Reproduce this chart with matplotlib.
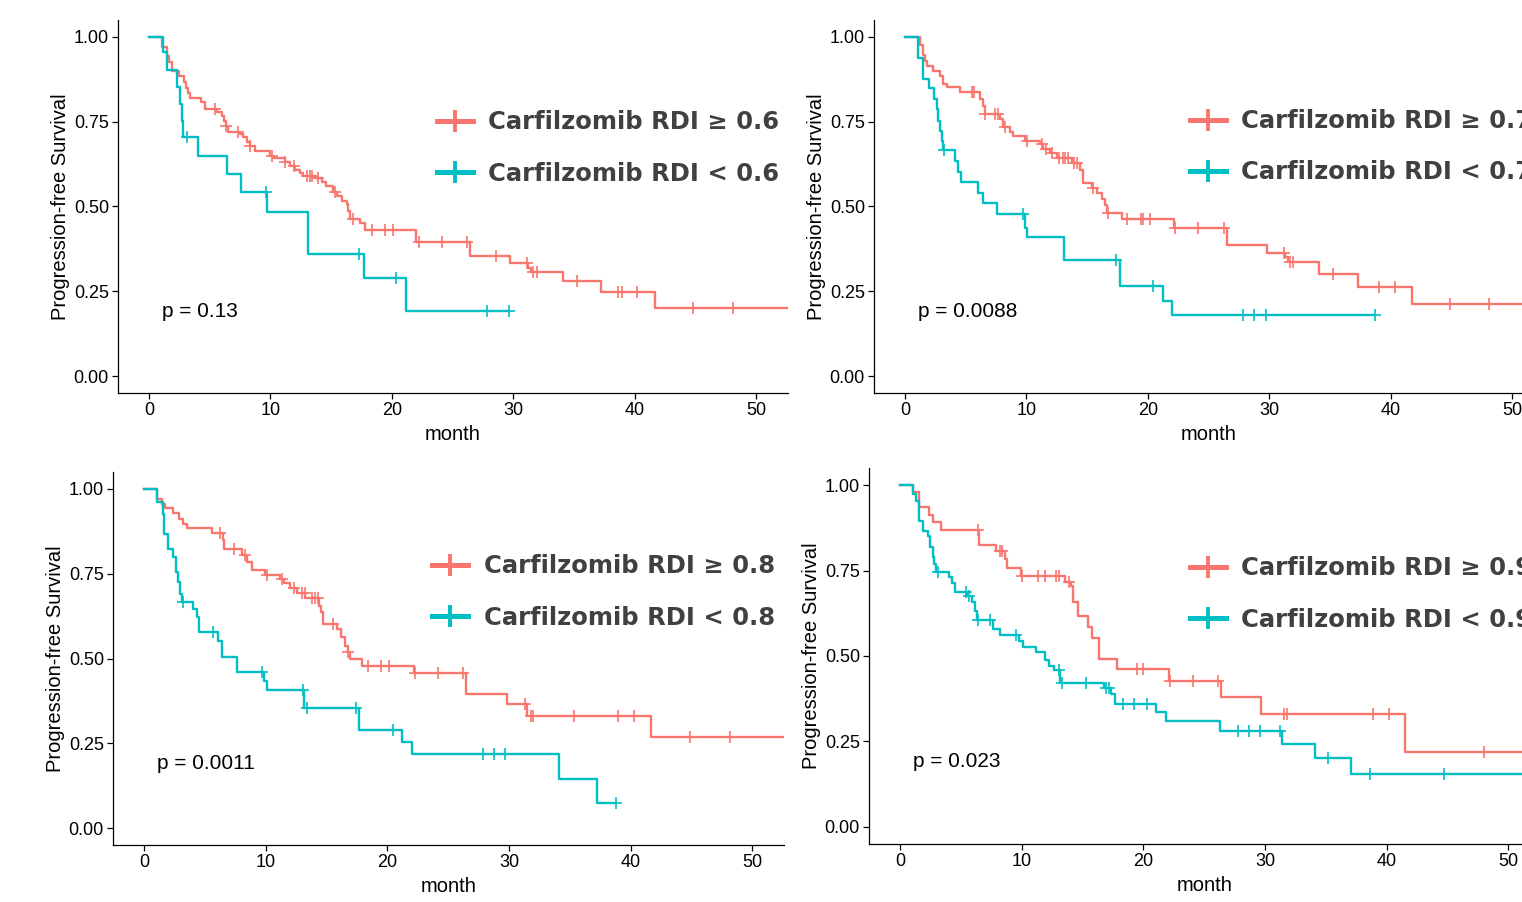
import matplotlib.pyplot as plt
from matplotlib.lines import Line2D
import numpy as np

RED = "#F8766D"
TEAL = "#00BFC4"

cutoffs = ["0.6", "0.7", "0.8", "0.9"]
p_values = ["0.13", "0.0088", "0.0011", "0.023"]

# ---- panel 1: RDI 0.6 ----
p1_hi_t = [0, 1.04, 1.45, 1.67, 1.86, 2.5, 2.88, 3.04, 3.24, 3.37, 4.25, 4.61, 5.62, 5.98, 6.17, 6.34,
           6.53, 7.49, 7.76, 8.04, 8.31, 8.72, 9.96, 10.23, 11.19, 11.60, 12.02, 12.43, 12.70, 13.66,
           14.21, 14.57, 15.17, 15.45, 15.86, 16.27, 16.41, 16.54, 17.37, 17.78, 21.98, 26.42, 29.71,
           31.2, 31.45, 34.1, 37.17, 41.64]
p1_hi_s = [1.0, 0.970, 0.943, 0.925, 0.900, 0.884, 0.867, 0.850, 0.835, 0.819, 0.807, 0.788, 0.778,
           0.768, 0.753, 0.738, 0.721, 0.714, 0.704, 0.689, 0.678, 0.665, 0.650, 0.642, 0.630, 0.620,
           0.609, 0.599, 0.591, 0.583, 0.573, 0.561, 0.542, 0.532, 0.517, 0.507, 0.488, 0.463, 0.451,
           0.432, 0.394, 0.353, 0.332, 0.320, 0.308, 0.280, 0.249, 0.201]
p1_hi_cens = [5.43, 6.34, 7.35, 8.31, 10.1, 11.2, 11.9, 12.98, 13.25, 13.39, 13.94, 15.3, 16.82, 18.33,
              19.42, 20.11, 22.25, 24.1, 26.2, 28.6, 31.08, 31.63, 31.9, 35.2, 38.63, 38.9, 40.19,
              44.75, 48.04]
p1_hi_end = 53
p1_lo_t = [0, 1.12, 1.5, 2.28, 2.55, 2.69, 2.83, 4.03, 6.45, 7.55, 9.74, 13.07, 17.7, 21.15]
p1_lo_s = [1.0, 0.955, 0.903, 0.852, 0.802, 0.753, 0.704, 0.650, 0.596, 0.542, 0.483, 0.360, 0.289, 0.193]
p1_lo_cens = [3.16, 9.63, 17.31, 20.33, 27.79, 29.65]
p1_lo_end = 29.65

# ---- panel 2: RDI 0.7 ----
p2_hi_t = [0, 1.2, 1.45, 1.65, 1.84, 2.33, 2.88, 3.1, 3.43, 4.53, 6.17, 6.39, 6.58, 7.82, 8.04, 8.64,
           8.92, 9.88, 11.11, 11.39, 11.93, 12.48, 13.71, 14.4, 14.62, 15.36, 15.77, 16.19, 16.46,
           16.65, 17.83, 22.14, 26.5, 29.77, 31.3, 31.5, 34.1, 37.3, 41.7]
p2_hi_s = [1.0, 0.975, 0.948, 0.929, 0.915, 0.900, 0.885, 0.862, 0.852, 0.839, 0.818, 0.796, 0.773,
           0.758, 0.733, 0.720, 0.707, 0.694, 0.684, 0.671, 0.659, 0.644, 0.627, 0.609, 0.570, 0.555,
           0.540, 0.521, 0.503, 0.482, 0.462, 0.438, 0.385, 0.364, 0.352, 0.335, 0.300, 0.264, 0.211]
p2_hi_cens = [5.49, 5.68, 6.58, 7.41, 7.68, 8.23, 10.07, 11.25, 11.6, 12.1, 12.7, 12.97, 13.17, 13.44,
              13.9, 14.2, 15.45, 16.74, 18.3, 19.4, 19.6, 20.2, 22.2, 24.14, 26.3, 31.2, 31.7, 31.97,
              35.2, 39.0, 40.3, 44.85, 48.1]
p2_hi_end = 53
p2_lo_t = [0, 1.1, 1.51, 2.0, 2.39, 2.6, 2.74, 2.88, 3.02, 3.1, 4.1, 4.39, 4.58, 6.04, 6.45, 7.54,
           9.88, 10.07, 13.08, 17.7, 21.2, 22.0]
p2_lo_s = [1.0, 0.939, 0.877, 0.848, 0.818, 0.787, 0.752, 0.723, 0.693, 0.666, 0.634, 0.602, 0.573,
           0.541, 0.511, 0.479, 0.437, 0.409, 0.343, 0.265, 0.222, 0.179]
p2_lo_cens = [3.21, 9.68, 17.36, 20.38, 27.85, 28.75, 29.7, 38.7]
p2_lo_end = 38.7

# ---- panel 3: RDI 0.8 ----
p3_hi_t = [0, 1.04, 1.45, 1.73, 2.41, 2.91, 3.18, 3.51, 5.57, 6.47, 6.58, 8.04, 8.5, 8.86, 9.96, 11.2,
           11.47, 12.02, 12.57, 13.25, 14.35, 14.54, 14.7, 15.86, 16.19, 16.54, 16.74, 16.9, 17.92,
           22.17, 26.5, 29.8, 31.5, 41.7]
p3_hi_s = [1.0, 0.970, 0.956, 0.943, 0.928, 0.912, 0.897, 0.884, 0.870, 0.848, 0.823, 0.805, 0.784,
           0.762, 0.746, 0.734, 0.722, 0.707, 0.693, 0.678, 0.656, 0.637, 0.602, 0.587, 0.562, 0.538,
           0.518, 0.500, 0.479, 0.457, 0.395, 0.366, 0.331, 0.268]
p3_hi_cens = [6.26, 7.4, 8.31, 10.1, 11.3, 12.3, 13.0, 13.2, 13.8, 14.07, 14.27, 15.53, 16.8, 18.38,
              19.48, 20.11, 22.3, 24.2, 26.2, 31.3, 31.8, 32.0, 35.3, 38.95, 40.27, 44.9, 48.2]
p3_hi_end = 53
p3_lo_t = [0, 1.04, 1.536, 1.65, 2.0, 2.36, 2.63, 2.83, 2.96, 3.1, 4.06, 4.39, 4.55, 6.12, 6.39, 7.63,
           9.88, 10.1, 13.17, 17.64, 21.2, 22.03, 34.1, 37.25]
p3_lo_s = [1.0, 0.961, 0.926, 0.867, 0.823, 0.798, 0.754, 0.725, 0.690, 0.666, 0.646, 0.621, 0.577,
           0.553, 0.503, 0.459, 0.434, 0.407, 0.353, 0.290, 0.253, 0.218, 0.144, 0.074]
p3_lo_cens = [3.24, 5.71, 9.68, 13.05, 13.4, 17.45, 20.46, 27.87, 28.75, 29.7, 38.77]
p3_lo_end = 38.77

# ---- panel 4: RDI 0.9 ----
p4_hi_t = [0, 1.04, 1.59, 2.36, 2.74, 3.37, 6.46, 7.9, 8.65, 8.76, 9.94, 13.58, 14.05, 14.24, 14.6,
           15.42, 15.77, 16.32, 17.8, 22.07, 26.4, 29.69, 41.52]
p4_hi_s = [1.0, 0.979, 0.935, 0.912, 0.891, 0.869, 0.825, 0.808, 0.785, 0.756, 0.733, 0.716, 0.704,
           0.657, 0.616, 0.584, 0.552, 0.491, 0.462, 0.428, 0.379, 0.330, 0.220]
p4_hi_cens = [6.38, 8.24, 8.4, 10.0, 11.3, 11.94, 12.8, 13.04, 13.86, 19.44, 19.99, 22.18, 24.1, 26.1,
              31.6, 31.8, 38.84, 40.15, 48.0]
p4_hi_end = 53
p4_lo_t = [0, 1.04, 1.32, 1.59, 1.92, 2.27, 2.47, 2.68, 2.82, 2.96, 3.99, 4.27, 4.54, 5.48, 5.91, 6.19,
           6.3, 7.61, 8.22, 9.75, 10.08, 11.17, 11.94, 12.27, 12.68, 13.14, 16.79, 17.34, 17.7, 21.04,
           21.9, 26.3, 31.4, 34.1, 37.1]
p4_lo_s = [1.0, 0.975, 0.954, 0.896, 0.867, 0.852, 0.818, 0.791, 0.769, 0.747, 0.730, 0.713, 0.686,
           0.676, 0.659, 0.633, 0.606, 0.580, 0.561, 0.545, 0.525, 0.511, 0.487, 0.472, 0.458, 0.421,
           0.405, 0.390, 0.360, 0.335, 0.311, 0.282, 0.243, 0.201, 0.155]
p4_lo_cens = [3.1, 5.42, 5.64, 6.38, 7.4, 9.53, 13.04, 13.3, 15.28, 16.9, 17.15, 18.3, 19.25, 20.27,
              27.75, 28.65, 29.6, 31.2, 35.2, 38.6, 44.7]
p4_lo_end = 53

panels = [
    (p1_hi_t, p1_hi_s, p1_hi_cens, p1_hi_end, p1_lo_t, p1_lo_s, p1_lo_cens, p1_lo_end),
    (p2_hi_t, p2_hi_s, p2_hi_cens, p2_hi_end, p2_lo_t, p2_lo_s, p2_lo_cens, p2_lo_end),
    (p3_hi_t, p3_hi_s, p3_hi_cens, p3_hi_end, p3_lo_t, p3_lo_s, p3_lo_cens, p3_lo_end),
    (p4_hi_t, p4_hi_s, p4_hi_cens, p4_hi_end, p4_lo_t, p4_lo_s, p4_lo_cens, p4_lo_end),
]

# axes boxes in pixels: left, bottom (from top), width, height
W, H = 1522, 902
boxes = [(118, 393, 670, 373), (874, 393, 670, 373), (113, 845, 671, 373), (869, 844, 671, 376)]
legend_anchor = [(0.476, 0.657), (0.4716, 0.66), (0.4754, 0.678), (0.478, 0.665)]

plt.rcParams["font.family"] = ["Liberation Sans", "DejaVu Sans"]

fig = plt.figure(figsize=(W / 100, H / 100), dpi=100)


def km(ax, t, s, cens, end, color):
    t = np.asarray(t)
    s = np.asarray(s)
    ax.step(np.append(t, end), np.append(s, s[-1]), where="post", color=color, lw=1.7)
    idx = np.searchsorted(t, cens, side="right") - 1
    ax.plot(cens, s[idx], ls="none", marker="+", color=color, ms=8.5, mew=1.2)


for i, (hit, his, hic, hie, lot, los, loc_, loe) in enumerate(panels):
    l, b, w, h = boxes[i]
    ax = fig.add_axes([l / W, 1 - b / H, w / W, h / H])
    km(ax, hit, his, hic, hie, RED)
    km(ax, lot, los, loc_, loe, TEAL)

    ax.set_xlim(-2.55, 52.6)
    ax.set_ylim(-0.05, 1.05)
    ax.set_xticks([0, 10, 20, 30, 40, 50])
    ax.set_yticks([0, 0.25, 0.5, 0.75, 1.0])
    ax.set_yticklabels(["0.00", "0.25", "0.50", "0.75", "1.00"])
    ax.tick_params(labelsize=13, length=4, width=0.9, pad=2.5, colors="black")
    for side in ["top", "right"]:
        ax.spines[side].set_visible(False)
    for side in ["left", "bottom"]:
        ax.spines[side].set_linewidth(0.9)
    ax.set_xlabel("month", fontsize=14.5, labelpad=4)
    ax.set_ylabel("Progression-free Survival", fontsize=14.5, labelpad=3)

    ax.text(1.07, 0.19, "p = " + p_values[i], fontsize=15, va="center", ha="left")

    handles = [
        Line2D([], [], color=RED, lw=3.6, marker="+", ms=16, mew=2.8),
        Line2D([], [], color=TEAL, lw=3.6, marker="+", ms=16, mew=2.8),
    ]
    labels = ["Carfilzomib RDI \u2265 " + cutoffs[i], "Carfilzomib RDI < " + cutoffs[i]]
    ax.legend(handles, labels, loc="center left", bbox_to_anchor=legend_anchor[i],
              frameon=False, borderpad=0, borderaxespad=0, handlelength=1.5,
              handletextpad=0.62, labelspacing=1.12,
              prop={"family": ["DejaVu Sans"], "weight": "bold", "size": 17.5},
              labelcolor="#404040")

fig.savefig("out.png", dpi=100)
